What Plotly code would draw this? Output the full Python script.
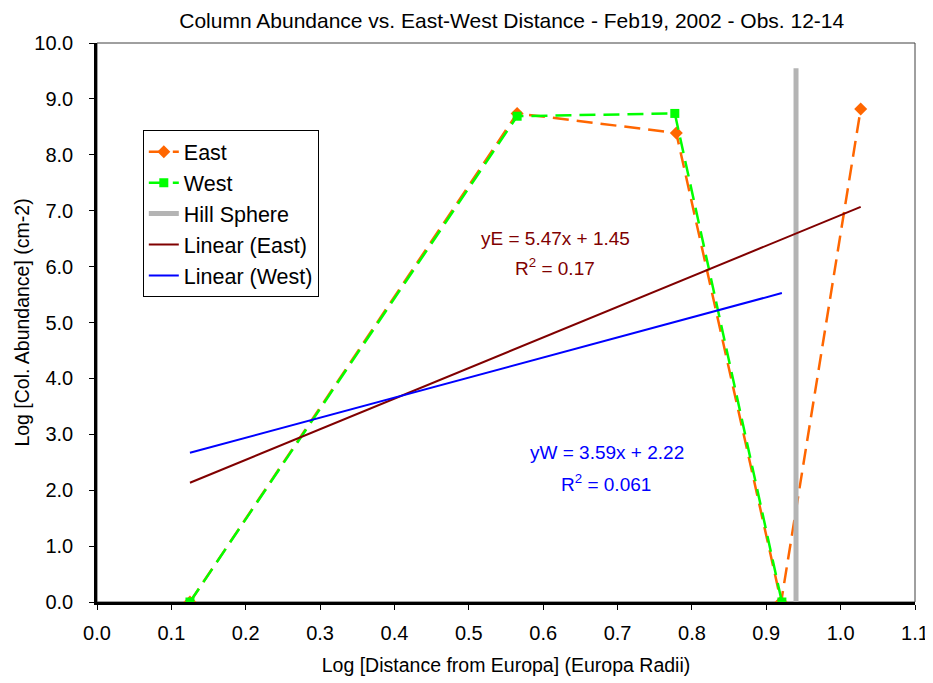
import plotly.graph_objects as go

east_x = [0.125, 0.565, 0.779, 0.920, 1.027]
east_y = [0.0, 8.74, 8.39, 0.0, 8.82]
west_x = [0.125, 0.565, 0.777, 0.921]
west_y = [0.0, 8.69, 8.74, 0.0]
hill_x = [0.940, 0.940]
hill_y = [0.0, 9.55]
linE_x = [0.125, 1.027]
linW_x = [0.125, 0.921]
slopeE, interE = 5.47, 1.45
slopeW, interW = 3.59, 2.22

FONT = "Liberation Sans, Arial, sans-serif"

fig = go.Figure()
fig.add_trace(go.Scatter(x=east_x, y=east_y, name="East", mode="lines+markers",
                         line=dict(color="#FF6600", width=2.5, dash="16px,8px"),
                         marker=dict(symbol="diamond", size=10, color="#FF6600")))
fig.add_trace(go.Scatter(x=west_x, y=west_y, name="West", mode="lines+markers",
                         line=dict(color="#00FF00", width=2.5, dash="16px,8px"),
                         marker=dict(symbol="square", size=9, color="#00FF00")))
fig.add_trace(go.Scatter(x=hill_x, y=hill_y, name="Hill Sphere", mode="lines",
                         line=dict(color="#B4B4B4", width=5)))
fig.add_trace(go.Scatter(x=linE_x, y=[slopeE * v + interE for v in linE_x], name="Linear (East)",
                         mode="lines", line=dict(color="#800000", width=2)))
fig.add_trace(go.Scatter(x=linW_x, y=[slopeW * v + interW for v in linW_x], name="Linear (West)",
                         mode="lines", line=dict(color="#0000FF", width=2)))

ann_font_e = dict(color="#800000", size=19, family=FONT)
ann_font_w = dict(color="#0000FF", size=19, family=FONT)
fig.add_annotation(x=0.616, y=6.51, text="yE = 5.47x + 1.45", showarrow=False, font=ann_font_e)
fig.add_annotation(x=0.616, y=5.99, text="R<sup>2</sup> = 0.17", showarrow=False, font=ann_font_e)
fig.add_annotation(x=0.686, y=2.68, text="yW = 3.59x + 2.22", showarrow=False, font=ann_font_w)
fig.add_annotation(x=0.684, y=2.13, text="R<sup>2</sup> = 0.061", showarrow=False, font=ann_font_w)

fig.add_shape(type="rect", xref="paper", yref="paper", x0=0, y0=0, x1=1, y1=1,
              line=dict(color="#404040", width=1), layer="below")

fig.update_layout(
    width=925, height=675,
    margin=dict(l=89, r=18, t=35, b=81),
    paper_bgcolor="white", plot_bgcolor="white",
    font=dict(family=FONT, size=20, color="black"),
    title=dict(text="Column Abundance vs. East-West Distance - Feb19, 2002 - Obs. 12-14",
               x=0.507, xanchor="center", xref="paper", yref="container", y=0.981, yanchor="middle",
               font=dict(size=21)),
    showlegend=True,
    legend=dict(x=0.056, y=0.844, xanchor="left", yanchor="top", bordercolor="black", borderwidth=1,
                bgcolor="white", font=dict(size=21.5), tracegroupgap=0),
    xaxis=dict(range=[0, 1.1], dtick=0.1, tick0=0, tickformat=".1f", showgrid=False, zeroline=False,
               showline=True, linecolor="black", linewidth=2.5, ticks="outside", ticklen=5,
               tickcolor="black", tickwidth=1, automargin=False, tickfont=dict(size=20),
               ticklabelstandoff=6,
               title=dict(text="Log [Distance from Europa] (Europa Radii)", standoff=16, font=dict(size=19.5))),
    yaxis=dict(range=[0, 10], dtick=1, tick0=0, tickformat=".1f", showgrid=False, zeroline=False,
               showline=True, linecolor="black", linewidth=2.5, ticks="outside", ticklen=5,
               tickcolor="black", tickwidth=1, automargin=False, tickfont=dict(size=20),
               ticklabelstandoff=12,
               title=dict(text="Log [Col. Abundance] (cm-2)", standoff=0, font=dict(size=19.5))),
)

fig.write_html("out.html")
